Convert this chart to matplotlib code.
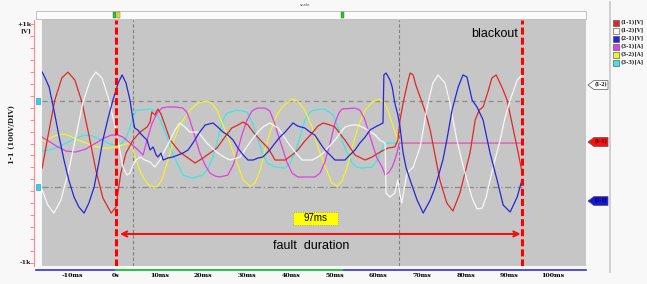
import numpy as np
import matplotlib
matplotlib.use('Agg')
import matplotlib.pyplot as plt
from matplotlib.patches import Rectangle, Polygon
from matplotlib.lines import Line2D

# ---- data (time in ms, value in chart units) ----
red_tv = [(-16.9, -205), (-15.3, 113), (-14.0, 364), (-12.4, 548), (-11.0, 598), (-9.4, 531),
          (-7.8, 347), (-6.2, 71), (-4.6, -222), (-3.0, -456), (-1.1, -582), (0, -531),
          (1.1, -247), (2.3, -80), (3.9, 29), (5.5, 96), (7.1, 138), (7.8, 180), (8.2, 264),
          (8.9, 239), (9.6, 289), (10.3, 247), (11.2, 155), (12.4, 29), (13.5, -21), (14.6, -71),
          (16.2, -113), (18.1, -163), (19.9, -121), (21.5, -80), (23.1, -38), (24.9, 54),
          (26.5, 130), (27.9, 155), (29.1, 180), (30.2, 155), (31.4, 96), (33.0, 29), (34.8, -38),
          (36.4, -138), (38.7, -138), (40.3, -96), (41.6, -54), (43.2, 21), (44.9, 88),
          (46.2, 146), (47.4, 172), (49.0, 155), (50.1, 138), (52.4, 29), (54.7, -96),
          (57.0, -138), (58.6, -113), (60.0, -80), (62.2, -38), (63.8, -29), (64.5, 29),
          (65.0, 197), (65.7, 339), (66.6, 490), (67.3, 590), (68.0, 574), (68.6, 490),
          (69.6, 389), (70.8, 264), (71.9, 113), (73.0, -96), (74.1, -305), (75.7, -498),
          (77.1, -565), (78.7, -414), (79.9, -239), (81.0, -80), (82.2, 197), (83.1, 280),
          (84.0, 306), (85.1, 431), (86.0, 548), (87.0, 574), (88.3, 473), (89.5, 364),
          (90.8, 138), (92.0, -71), (92.9, -239)]

white_tv = [(-16.9, -389), (-15.6, -515), (-14.2, -582), (-12.6, -473), (-10.8, -222), (-9.2, 54),
            (-7.6, 339), (-5.9, 531), (-4.6, 598), (-3.2, 548), (-1.8, 389), (0, 113),
            (1.6, -197), (2.5, -264), (3.2, -247), (3.9, -180), (4.6, -138), (5.5, -113),
            (6.6, -138), (7.8, -155), (8.9, -197), (10.1, -138), (11.2, -54), (12.4, 29),
            (13.5, 113), (14.6, 172), (15.8, 138), (16.9, 96), (18.8, 96), (20.8, 4), (22.0, -38),
            (23.3, -80), (24.7, -113), (26.1, -138), (28.4, -113), (30.7, 13), (32.3, 88),
            (33.6, 138), (35.2, 172), (37.1, 130), (38.2, 71), (39.4, 4), (41.0, -71),
            (42.6, -138), (44.9, -138), (46.2, -113), (47.4, -80), (50.1, 29), (51.3, 88),
            (52.4, 138), (53.9, 155), (55.4, 155), (57.7, 113), (59.3, 71), (60.4, 29), (61.6, 4),
            (61.8, -414), (62.7, -448), (63.8, -414), (64.5, -305), (65.0, -431), (65.4, -498),
            (66.1, -347), (66.6, -247), (68.0, -197), (69.6, -29), (71.2, 306), (72.5, 506),
            (73.7, 574), (75.3, 506), (76.4, 339), (78.0, 29), (79.2, -155), (80.3, -305),
            (81.5, -456), (82.6, -548), (83.8, -540), (84.7, -448), (85.6, -305), (86.7, -138),
            (87.9, 29), (89.0, 213), (90.2, 364), (91.8, 531), (92.9, 574)]

blue_tv = [(-16.9, 598), (-16.2, 548), (-15.3, 473), (-14.2, 280), (-13.0, 54), (-11.9, -138),
           (-10.8, -305), (-9.6, -448), (-8.5, -531), (-7.3, -582), (-6.2, -498), (-5.0, -364),
           (-3.9, -155), (-3.0, 29), (-1.8, 213), (-0.7, 364), (0.5, 506), (1.4, 574), (2.3, 506),
           (3.2, 364), (3.9, 197), (4.3, 130), (5.0, 113), (5.5, 88), (6.4, 54), (7.1, 29),
           (7.8, -54), (8.5, -29), (9.2, -96), (9.6, -113), (10.3, -80), (10.8, -138),
           (11.9, -121), (13.0, -113), (14.2, -96), (15.3, -80), (16.5, -54), (17.6, 4),
           (19.0, 88), (20.4, 155), (22.2, 172), (23.3, 138), (24.5, 96), (25.6, 71), (26.8, 29),
           (27.9, -38), (29.1, -96), (30.2, -138), (31.4, -138), (32.5, -121), (33.6, -113),
           (35.2, -54), (36.4, 4), (37.5, 54), (38.7, 96), (40.5, 172), (41.6, 146), (43.2, 130),
           (44.4, 96), (45.5, 71), (46.7, 4), (47.8, -54), (49.0, -96), (50.1, -138),
           (52.4, -138), (53.5, -96), (54.7, -54), (55.8, 4), (57.0, 54), (58.1, 113),
           (59.3, 138), (61.1, 172), (61.3, 574), (61.8, 590), (62.2, 565), (62.7, 531),
           (63.2, 473), (63.8, 339), (64.5, 239), (65.0, 138), (65.7, -80), (66.4, -205),
           (67.3, -305), (68.9, -473), (70.3, -582), (71.9, -473), (72.8, -389), (73.7, -280),
           (74.8, -138), (75.7, 29), (76.9, 280), (78.3, 473), (79.4, 574), (80.3, 557),
           (81.5, 364), (82.6, 306), (84.0, 197), (85.6, -80), (87.2, -305), (88.6, -515),
           (90.2, -573), (91.8, -448), (92.9, -305)]

magenta_tv = [(-16.9, 54), (-15.1, 13), (-13.3, -29), (-11.4, -63), (-9.2, -71), (-6.9, -46),
              (-4.6, 4), (-2.7, 46), (-1.1, 71), (0.5, 71), (1.6, 54), (3.2, 4), (4.6, -38),
              (6.2, -96), (7.1, 29), (8.2, 163), (9.4, 255), (10.5, 297), (11.7, 306),
              (13.5, 306), (15.3, 297), (16.2, 264), (16.9, 197), (18.1, 54), (19.2, -80),
              (20.4, -180), (21.5, -247), (22.7, -272), (23.8, -280), (25.6, -264), (26.8, -180),
              (27.7, -80), (28.8, 71), (30.0, 197), (31.1, 272), (32.3, 297), (34.1, 297),
              (35.2, 272), (36.2, 180), (37.1, 71), (38.0, -29), (39.1, -155), (40.3, -247),
              (41.6, -280), (45.5, -280), (46.7, -247), (47.8, -155), (49.0, 4), (50.1, 172),
              (51.0, 255), (51.7, 289), (54.7, 297), (55.8, 280), (56.8, 213), (57.7, 113),
              (58.6, 4), (59.7, -121), (60.9, -197), (61.6, -264), (62.5, -239), (63.2, -197),
              (63.8, -138), (64.3, -80), (64.8, 4), (92.9, 4)]

yellow_tv = [(-16.9, 13), (-15.1, 46), (-13.5, 71), (-12.1, 80), (-10.5, 63), (-8.7, 29),
             (-6.9, 4), (-5.0, -21), (-3.2, -38), (-1.6, -38), (0, -29), (1.4, -13), (2.3, -4),
             (3.0, 4), (3.9, -54), (4.6, -138), (5.7, -247), (6.9, -322), (7.8, -356),
             (9.4, -364), (10.5, -305), (11.7, -163), (13.0, 4), (14.6, 155), (16.9, 280),
             (18.8, 339), (20.8, 356), (21.9, 339), (23.1, 280), (24.5, 155), (26.1, 4),
             (27.7, -163), (29.1, -305), (30.7, -356), (31.8, -331), (33.0, -222), (34.1, -54),
             (35.2, 88), (36.6, 222), (38.0, 306), (40.3, 372), (41.6, 356), (43.2, 280),
             (44.9, 138), (46.2, -29), (47.8, -189), (49.4, -331), (50.6, -356), (51.7, -314),
             (52.9, -197), (54.2, -13), (55.4, 138), (57.0, 280), (58.6, 347), (60.4, 372),
             (61.3, 347), (62.2, 280), (63.4, 146), (64.3, 54), (64.8, 4), (92.9, 4)]

cyan_tv = [(-16.9, -63), (-15.1, -54), (-13.3, -29), (-11.4, 4), (-9.6, 38), (-7.8, 63),
           (-6.2, 71), (-4.6, 54), (-2.7, 21), (-1.4, -4), (0, -13), (1.4, 4), (2.3, 46),
           (3.2, 130), (3.9, 213), (4.6, 280), (5.5, 280), (7.8, 289), (8.9, 272), (10.1, 197),
           (11.7, 54), (12.8, -71), (14.0, -163), (15.3, -264), (17.6, -289), (19.9, -264),
           (21.1, -205), (22.2, -113), (23.1, 4), (23.8, 113), (24.7, 213), (25.4, 255),
           (27.7, 280), (30.0, 264), (31.1, 180), (32.3, 54), (33.4, -71), (34.6, -163),
           (36.4, -197), (38.7, -205), (39.8, -163), (41.0, -80), (42.1, 54), (43.2, 197),
           (44.2, 255), (45.1, 280), (47.8, 289), (49.7, 239), (50.8, 138), (51.7, 29),
           (52.9, -80), (54.0, -163), (55.1, -197), (56.3, -205), (58.6, -197), (59.7, -146),
           (60.4, -80), (61.6, 4), (92.9, 4)]

channels = ['(1-1)[V]', '(1-2)[V]', '(2-1)[V]', '(3-1)[A]', '(3-2)[A]', '(3-3)[A]']
colours = ['#e02828', '#f8f8f8', '#2626d6', '#e040e0', '#f2f22a', '#3ee6e6']
xtick_vals = [-10, 0, 10, 20, 30, 40, 50, 60, 70, 80, 90, 100]
xtick_labels = ['-10ms', '0s', '10ms', '20ms', '30ms', '40ms', '50ms', '60ms', '70ms', '80ms', '90ms', '100ms']
fault_start, fault_end = 0, 92.9
cursor_times = [3.9, 64.8]
level_lines = [356, -364]
duration_label = '97ms'

W, H = 647, 284


def fx(x):
    return x / W


def fy(y):
    return 1 - y / H


fig = plt.figure(figsize=(W / 100, H / 100), dpi=100, facecolor='#f8f8f8')
ax = fig.add_axes([fx(42), fy(266), fx(586) - fx(42), fy(20) - fy(266)])
ax.set_facecolor('#c6c6c6')
ax.set_xlim(-16.93, 107.55)
ax.set_ylim(-1025, 1034)

# guides
for v, ls in zip(level_lines, [(0, (4, 3)), (0, (5, 2, 1, 2))]):
    ax.plot([ax.get_xlim()[0], fault_end], [v, v], color='#8a8a8a', lw=0.9, ls=ls, zorder=1)
for t in cursor_times:
    ax.axvline(t, color='#808080', lw=0.8, ls=(0, (3, 2)), zorder=1)

# traces: currents under voltages
for tv, c in zip([cyan_tv, yellow_tv, magenta_tv], [colours[5], colours[4], colours[3]]):
    t, v = np.array(tv).T
    ax.plot(t, v, color=c, lw=0.9, zorder=2)
for tv, c in zip([red_tv, white_tv, blue_tv], colours[:3]):
    t, v = np.array(tv).T
    ax.plot(t, v, color=c, lw=0.9, zorder=3)

for t in [fault_start, fault_end]:
    ax.axvline(t, color='#ff0000', lw=2.2, ls=(0, (2.3, 1)), zorder=5)

# annotations
ax.annotate('', xy=(92.6, -757), xytext=(0.9, -757),
            arrowprops=dict(arrowstyle='<->', color='#ee1111', lw=1.5,
                            shrinkA=0, shrinkB=0, mutation_scale=9), zorder=6)
ax.add_patch(Rectangle((40.5, -682), 10.3, 109, facecolor='#ffff00',
                       edgecolor='#999999', lw=0.6, ls=':', zorder=6))
ax.text(45.65, -626, duration_label, ha='center', va='center', fontsize=7,
        family=['Liberation Sans', 'DejaVu Sans'], zorder=7)
ax.text(44.6, -858, 'fault  duration', ha='center', va='center', fontsize=9,
        family=['Liberation Sans Narrow', 'Liberation Sans', 'DejaVu Sans'], zorder=7)
ax.text(92.0, 917, 'blackout', ha='right', va='center', fontsize=9,
        family=['Liberation Sans Narrow', 'Liberation Sans', 'DejaVu Sans'], zorder=7)

# axes styling
for s in ['top', 'right', 'bottom']:
    ax.spines[s].set_visible(False)
ax.spines['left'].set_position(('outward', 6))
ax.spines['left'].set_color('#ff8a8a')
ax.set_yticks(np.arange(-1000, 1001, 100))
ax.set_yticklabels([])
ax.tick_params(axis='y', colors='#ff8a8a', length=3, width=0.8)
ax.set_xticks(xtick_vals)
ax.set_xticklabels(xtick_labels, fontsize=4.5, fontweight='bold', family='DejaVu Serif')
ax.tick_params(axis='x', length=0, pad=5)

serif = dict(family='DejaVu Serif', fontweight='bold', color='#222222')
fig.text(fx(31), fy(24), '+1k', ha='right', va='center', fontsize=4.5, **serif)
fig.text(fx(31), fy(31), '[V]', ha='right', va='center', fontsize=4.5, **serif)
fig.text(fx(31), fy(263), '-1k', ha='right', va='center', fontsize=4.5, **serif)
fig.text(fx(12), fy(135), '1-1 (100V/DIV)', rotation=90, ha='center', va='center',
         fontsize=5, **serif)

# bottom time bar
xa = ax.get_xaxis_transform()
ax.plot([-18.3, 107.55], [-0.018, -0.018], transform=xa, color='#3030e0', lw=1.2, clip_on=False)
ax.plot([0, 51.7], [-0.018, -0.018], transform=xa, color='#22dd22', lw=1.2, clip_on=False)

# left level markers
for y in [101, 187]:
    fig.patches.append(Rectangle((fx(36), fy(y + 3)), 4 / W, 6 / H, transform=fig.transFigure,
                                 facecolor='#30d0f0', edgecolor='#2090b0', lw=0.4))

# top strip with cursors
fig.patches.append(Rectangle((fx(36), fy(19)), (586 - 36) / W, 8 / H, transform=fig.transFigure,
                             facecolor='#fbfbfb', edgecolor='#b8b8b8', lw=0.6))
fig.text(fx(305), fy(5), 'scale', ha='center', va='center', fontsize=3, color='#555555')
for x0, c in [(113, '#22cc22'), (117, '#eeee00'), (341, '#22cc22')]:
    fig.patches.append(Rectangle((fx(x0), fy(18)), 3 / W, 6 / H, transform=fig.transFigure,
                                 facecolor=c, edgecolor='#555555', lw=0.3))

# right side: separator, channel tags, legend
fig.add_artist(Line2D([fx(610), fx(610)], [fy(2), fy(272)], transform=fig.transFigure,
                      color='#c8c8c8', lw=1.2))
for y, c, lab, tc in [(85, '#ffffff', '(1-2)', '#111111'), (142, '#ff1010', '(1-1)', '#330000'),
                      (201, '#1515e0', '(2-1)', '#000033')]:
    pts = [(588, y), (594, y - 4.5), (608, y - 4.5), (608, y + 4.5), (594, y + 4.5)]
    fig.patches.append(Polygon([(fx(a), fy(b)) for a, b in pts], closed=True,
                               transform=fig.transFigure, facecolor=c,
                               edgecolor='#555555', lw=0.5))
    fig.text(fx(601), fy(y), lab, ha='center', va='center', fontsize=3.3,
             family='DejaVu Serif', fontweight='bold', color=tc)

for i, (lab, c) in enumerate(zip(channels, colours)):
    y = 22.5 + i * 8.1
    fig.patches.append(Rectangle((fx(613), fy(y + 3)), 6 / W, 6 / H, transform=fig.transFigure,
                                 facecolor=c, edgecolor='#444444', lw=0.4))
    fig.text(fx(620.5), fy(y), lab, ha='left', va='center', fontsize=3.8,
             family='DejaVu Serif', fontweight='bold', color='#222222')

fig.savefig('out.png', dpi=100, facecolor=fig.get_facecolor())
